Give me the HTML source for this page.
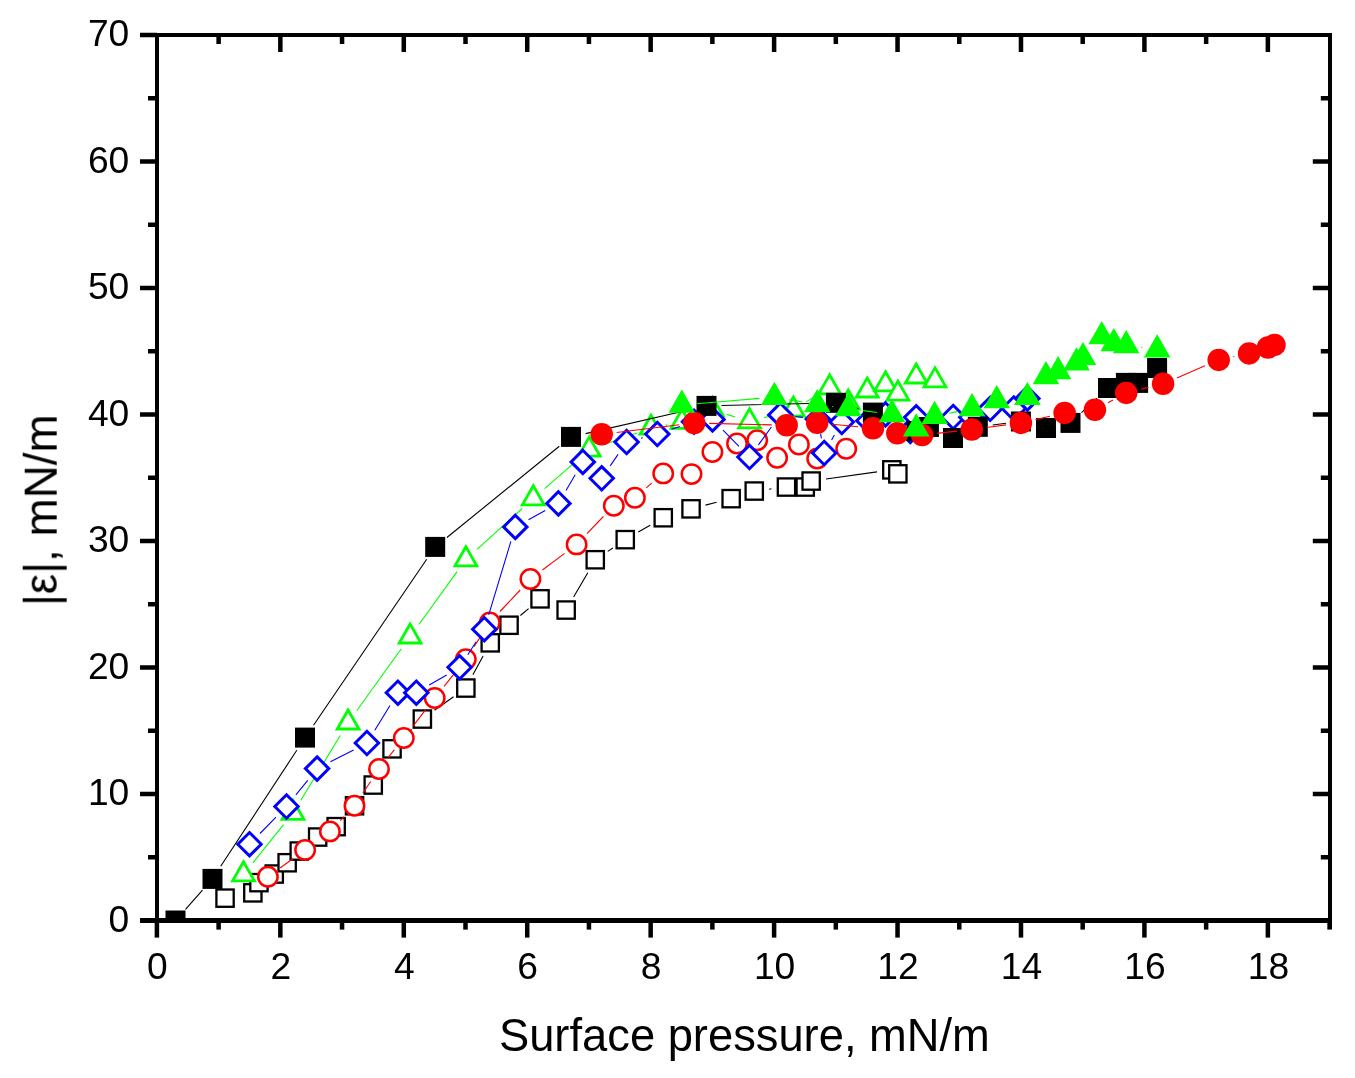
<!DOCTYPE html>
<html><head><meta charset="utf-8"><title>chart</title>
<style>html,body{margin:0;padding:0;background:#fff;}body{width:1355px;height:1078px;overflow:hidden;font-family:"Liberation Sans",sans-serif;}svg{display:block;}</style>
</head><body>
<svg width="1355" height="1078" viewBox="0 0 1355 1078">
<rect width="1355" height="1078" fill="#fff"/>
<defs><clipPath id="cp"><rect x="157" y="35" width="1173" height="886"/></clipPath></defs>
<g clip-path="url(#cp)">
<path d="M380.1 771.7L385.1 762.2M402.7 738.4L411.6 729.5M434.5 710.3L453.6 696.7M472.9 674.8L483.1 656.1M520.4 615.5L528.6 608.6M573.6 597.0L587.8 572.8M607.7 551.4L612.9 548.0M638.3 532.1L650.2 525.2M705.5 505.1L716.6 502.3M769.1 489.2L771.5 488.8M826.0 479.0L877.0 471.9" stroke="#000" stroke-width="1.1" fill="none"/>
<rect x="216.4" y="889.5" width="17.3" height="17.3" fill="#fff" stroke="#000" stroke-width="2.3"/>
<rect x="244.2" y="884.2" width="17.3" height="17.3" fill="#fff" stroke="#000" stroke-width="2.3"/>
<rect x="250.3" y="874.0" width="17.3" height="17.3" fill="#fff" stroke="#000" stroke-width="2.3"/>
<rect x="265.6" y="865.4" width="17.3" height="17.3" fill="#fff" stroke="#000" stroke-width="2.3"/>
<rect x="278.5" y="854.1" width="17.3" height="17.3" fill="#fff" stroke="#000" stroke-width="2.3"/>
<rect x="290.6" y="842.4" width="17.3" height="17.3" fill="#fff" stroke="#000" stroke-width="2.3"/>
<rect x="309.0" y="828.4" width="17.3" height="17.3" fill="#fff" stroke="#000" stroke-width="2.3"/>
<rect x="327.5" y="818.0" width="17.3" height="17.3" fill="#fff" stroke="#000" stroke-width="2.3"/>
<rect x="345.9" y="797.1" width="17.3" height="17.3" fill="#fff" stroke="#000" stroke-width="2.3"/>
<rect x="364.6" y="776.4" width="17.3" height="17.3" fill="#fff" stroke="#000" stroke-width="2.3"/>
<rect x="383.4" y="740.2" width="17.3" height="17.3" fill="#fff" stroke="#000" stroke-width="2.3"/>
<rect x="413.7" y="710.4" width="17.3" height="17.3" fill="#fff" stroke="#000" stroke-width="2.3"/>
<rect x="457.2" y="679.4" width="17.3" height="17.3" fill="#fff" stroke="#000" stroke-width="2.3"/>
<rect x="481.6" y="634.2" width="17.3" height="17.3" fill="#fff" stroke="#000" stroke-width="2.3"/>
<rect x="500.4" y="616.6" width="17.3" height="17.3" fill="#fff" stroke="#000" stroke-width="2.3"/>
<rect x="531.4" y="590.2" width="17.3" height="17.3" fill="#fff" stroke="#000" stroke-width="2.3"/>
<rect x="557.5" y="601.4" width="17.3" height="17.3" fill="#fff" stroke="#000" stroke-width="2.3"/>
<rect x="586.6" y="551.1" width="17.3" height="17.3" fill="#fff" stroke="#000" stroke-width="2.3"/>
<rect x="616.6" y="531.0" width="17.3" height="17.3" fill="#fff" stroke="#000" stroke-width="2.3"/>
<rect x="654.6" y="509.1" width="17.3" height="17.3" fill="#fff" stroke="#000" stroke-width="2.3"/>
<rect x="682.4" y="500.2" width="17.3" height="17.3" fill="#fff" stroke="#000" stroke-width="2.3"/>
<rect x="722.5" y="490.0" width="17.3" height="17.3" fill="#fff" stroke="#000" stroke-width="2.3"/>
<rect x="745.6" y="482.4" width="17.3" height="17.3" fill="#fff" stroke="#000" stroke-width="2.3"/>
<rect x="777.8" y="478.4" width="17.3" height="17.3" fill="#fff" stroke="#000" stroke-width="2.3"/>
<rect x="796.6" y="478.4" width="17.3" height="17.3" fill="#fff" stroke="#000" stroke-width="2.3"/>
<rect x="802.5" y="472.4" width="17.3" height="17.3" fill="#fff" stroke="#000" stroke-width="2.3"/>
<rect x="883.2" y="461.2" width="17.3" height="17.3" fill="#fff" stroke="#000" stroke-width="2.3"/>
<rect x="889.2" y="465.2" width="17.3" height="17.3" fill="#fff" stroke="#000" stroke-width="2.3"/>
<path d="M280.1 868.0L292.9 858.7M340.3 820.6L344.1 816.6M362.8 793.3L370.7 781.5M388.4 757.3L394.4 749.7M413.0 726.1L425.5 709.9M444.1 686.3L456.4 670.9M474.0 646.6L481.6 635.1M500.0 611.5L520.2 590.0M542.4 570.0L564.6 553.4M587.0 533.6L603.4 516.5M646.3 487.9L651.8 483.2" stroke="#f00" stroke-width="1.1" fill="none"/>
<circle cx="267.9" cy="876.8" r="9.7" fill="#fff" stroke="#f00" stroke-width="2.5"/>
<circle cx="305.1" cy="849.9" r="9.7" fill="#fff" stroke="#f00" stroke-width="2.5"/>
<circle cx="329.9" cy="831.4" r="9.7" fill="#fff" stroke="#f00" stroke-width="2.5"/>
<circle cx="354.5" cy="805.8" r="9.7" fill="#fff" stroke="#f00" stroke-width="2.5"/>
<circle cx="379.0" cy="769.0" r="9.7" fill="#fff" stroke="#f00" stroke-width="2.5"/>
<circle cx="403.8" cy="738.0" r="9.7" fill="#fff" stroke="#f00" stroke-width="2.5"/>
<circle cx="434.7" cy="698.0" r="9.7" fill="#fff" stroke="#f00" stroke-width="2.5"/>
<circle cx="465.8" cy="659.2" r="9.7" fill="#fff" stroke="#f00" stroke-width="2.5"/>
<circle cx="489.8" cy="622.5" r="9.7" fill="#fff" stroke="#f00" stroke-width="2.5"/>
<circle cx="530.4" cy="579.0" r="9.7" fill="#fff" stroke="#f00" stroke-width="2.5"/>
<circle cx="576.6" cy="544.4" r="9.7" fill="#fff" stroke="#f00" stroke-width="2.5"/>
<circle cx="613.8" cy="505.7" r="9.7" fill="#fff" stroke="#f00" stroke-width="2.5"/>
<circle cx="634.9" cy="497.7" r="9.7" fill="#fff" stroke="#f00" stroke-width="2.5"/>
<circle cx="663.2" cy="473.4" r="9.7" fill="#fff" stroke="#f00" stroke-width="2.5"/>
<circle cx="691.5" cy="474.1" r="9.7" fill="#fff" stroke="#f00" stroke-width="2.5"/>
<circle cx="712.4" cy="452.0" r="9.7" fill="#fff" stroke="#f00" stroke-width="2.5"/>
<circle cx="737.0" cy="443.5" r="9.7" fill="#fff" stroke="#f00" stroke-width="2.5"/>
<circle cx="757.2" cy="440.3" r="9.7" fill="#fff" stroke="#f00" stroke-width="2.5"/>
<circle cx="777.1" cy="457.7" r="9.7" fill="#fff" stroke="#f00" stroke-width="2.5"/>
<circle cx="798.9" cy="444.5" r="9.7" fill="#fff" stroke="#f00" stroke-width="2.5"/>
<circle cx="817.2" cy="458.5" r="9.7" fill="#fff" stroke="#f00" stroke-width="2.5"/>
<circle cx="846.2" cy="448.8" r="9.7" fill="#fff" stroke="#f00" stroke-width="2.5"/>
<path d="M252.9 862.8L283.6 824.7M300.8 800.2L340.3 735.5M356.9 710.5L401.3 648.8M418.9 624.5L457.1 571.6M477.0 549.4L522.2 508.5M544.6 488.6L577.9 459.6M603.3 444.8L636.9 432.9M665.7 425.1L667.3 424.8M695.9 416.5L698.6 415.4M726.8 414.4L735.2 417.0M764.0 417.7L778.8 413.7M806.1 401.9L816.8 395.4" stroke="#0f0" stroke-width="1.1" fill="none"/>
<polygon points="243.5,861.8 232.6,880.8 254.4,880.8" fill="#fff" stroke="#0f0" stroke-width="2.8" stroke-linejoin="miter"/>
<polygon points="293.0,800.3 282.1,819.3 303.9,819.3" fill="#fff" stroke="#0f0" stroke-width="2.8" stroke-linejoin="miter"/>
<polygon points="348.1,710.0 337.2,729.0 359.0,729.0" fill="#fff" stroke="#0f0" stroke-width="2.8" stroke-linejoin="miter"/>
<polygon points="410.1,624.0 399.2,643.0 421.0,643.0" fill="#fff" stroke="#0f0" stroke-width="2.8" stroke-linejoin="miter"/>
<polygon points="465.9,546.8 455.0,565.8 476.8,565.8" fill="#fff" stroke="#0f0" stroke-width="2.8" stroke-linejoin="miter"/>
<polygon points="533.3,485.8 522.4,504.8 544.2,504.8" fill="#fff" stroke="#0f0" stroke-width="2.8" stroke-linejoin="miter"/>
<polygon points="589.2,437.1 578.3,456.1 600.1,456.1" fill="#fff" stroke="#0f0" stroke-width="2.8" stroke-linejoin="miter"/>
<polygon points="651.0,415.2 640.1,434.2 661.9,434.2" fill="#fff" stroke="#0f0" stroke-width="2.8" stroke-linejoin="miter"/>
<polygon points="682.0,409.4 671.1,428.4 692.9,428.4" fill="#fff" stroke="#0f0" stroke-width="2.8" stroke-linejoin="miter"/>
<polygon points="712.5,397.2 701.6,416.2 723.4,416.2" fill="#fff" stroke="#0f0" stroke-width="2.8" stroke-linejoin="miter"/>
<polygon points="749.5,408.9 738.6,427.9 760.4,427.9" fill="#fff" stroke="#0f0" stroke-width="2.8" stroke-linejoin="miter"/>
<polygon points="793.3,397.1 782.4,416.1 804.2,416.1" fill="#fff" stroke="#0f0" stroke-width="2.8" stroke-linejoin="miter"/>
<polygon points="829.6,374.9 818.7,393.9 840.5,393.9" fill="#fff" stroke="#0f0" stroke-width="2.8" stroke-linejoin="miter"/>
<polygon points="848.3,390.0 837.4,409.0 859.2,409.0" fill="#fff" stroke="#0f0" stroke-width="2.8" stroke-linejoin="miter"/>
<polygon points="867.2,378.0 856.3,397.0 878.1,397.0" fill="#fff" stroke="#0f0" stroke-width="2.8" stroke-linejoin="miter"/>
<polygon points="885.5,371.9 874.6,390.9 896.4,390.9" fill="#fff" stroke="#0f0" stroke-width="2.8" stroke-linejoin="miter"/>
<polygon points="897.9,381.1 887.0,400.1 908.8,400.1" fill="#fff" stroke="#0f0" stroke-width="2.8" stroke-linejoin="miter"/>
<polygon points="916.2,364.0 905.3,383.0 927.1,383.0" fill="#fff" stroke="#0f0" stroke-width="2.8" stroke-linejoin="miter"/>
<polygon points="935.0,367.9 924.1,386.9 945.9,386.9" fill="#fff" stroke="#0f0" stroke-width="2.8" stroke-linejoin="miter"/>
<path d="M260.0 833.5L276.0 817.2M295.9 794.8L307.7 780.3M330.4 761.7L353.6 749.9M374.8 730.2L390.0 705.5M429.2 685.1L446.7 674.9M467.8 654.7L476.1 641.8M488.7 614.8L510.9 541.3M528.5 519.7L545.2 510.6M566.0 490.5L575.2 474.8M610.2 465.9L618.1 454.4M641.1 438.2L642.8 437.8M671.5 429.2L679.8 426.5M723.0 430.1L739.0 446.3M758.4 444.9L771.4 427.0M795.2 416.5L802.9 417.4M820.6 433.7L821.4 438.3M831.6 440.0L834.4 435.0M931.2 417.2L938.2 417.1" stroke="#00f" stroke-width="1.1" fill="none"/>
<polygon points="249.5,832.5 261.2,844.2 249.5,855.9 237.8,844.2" fill="#fff" stroke="#00f" stroke-width="3.0" stroke-linejoin="miter"/>
<polygon points="286.5,794.8 298.2,806.5 286.5,818.2 274.8,806.5" fill="#fff" stroke="#00f" stroke-width="3.0" stroke-linejoin="miter"/>
<polygon points="317.1,756.9 328.8,768.6 317.1,780.3 305.4,768.6" fill="#fff" stroke="#00f" stroke-width="3.0" stroke-linejoin="miter"/>
<polygon points="366.9,731.3 378.6,743.0 366.9,754.7 355.2,743.0" fill="#fff" stroke="#00f" stroke-width="3.0" stroke-linejoin="miter"/>
<polygon points="397.9,681.0 409.6,692.7 397.9,704.4 386.2,692.7" fill="#fff" stroke="#00f" stroke-width="3.0" stroke-linejoin="miter"/>
<polygon points="416.3,681.0 428.0,692.7 416.3,704.4 404.6,692.7" fill="#fff" stroke="#00f" stroke-width="3.0" stroke-linejoin="miter"/>
<polygon points="459.6,655.6 471.3,667.3 459.6,679.0 447.9,667.3" fill="#fff" stroke="#00f" stroke-width="3.0" stroke-linejoin="miter"/>
<polygon points="484.3,617.5 496.0,629.2 484.3,640.9 472.6,629.2" fill="#fff" stroke="#00f" stroke-width="3.0" stroke-linejoin="miter"/>
<polygon points="515.3,515.2 527.0,526.9 515.3,538.6 503.6,526.9" fill="#fff" stroke="#00f" stroke-width="3.0" stroke-linejoin="miter"/>
<polygon points="558.4,491.7 570.1,503.4 558.4,515.1 546.7,503.4" fill="#fff" stroke="#00f" stroke-width="3.0" stroke-linejoin="miter"/>
<polygon points="582.8,450.2 594.5,461.9 582.8,473.6 571.1,461.9" fill="#fff" stroke="#00f" stroke-width="3.0" stroke-linejoin="miter"/>
<polygon points="601.7,466.6 613.4,478.3 601.7,490.0 590.0,478.3" fill="#fff" stroke="#00f" stroke-width="3.0" stroke-linejoin="miter"/>
<polygon points="626.6,430.3 638.3,442.0 626.6,453.7 614.9,442.0" fill="#fff" stroke="#00f" stroke-width="3.0" stroke-linejoin="miter"/>
<polygon points="657.3,422.3 669.0,434.0 657.3,445.7 645.6,434.0" fill="#fff" stroke="#00f" stroke-width="3.0" stroke-linejoin="miter"/>
<polygon points="694.0,410.0 705.7,421.7 694.0,433.4 682.3,421.7" fill="#fff" stroke="#00f" stroke-width="3.0" stroke-linejoin="miter"/>
<polygon points="712.5,407.7 724.2,419.4 712.5,431.1 700.8,419.4" fill="#fff" stroke="#00f" stroke-width="3.0" stroke-linejoin="miter"/>
<polygon points="749.5,445.3 761.2,457.0 749.5,468.7 737.8,457.0" fill="#fff" stroke="#00f" stroke-width="3.0" stroke-linejoin="miter"/>
<polygon points="780.3,403.2 792.0,414.9 780.3,426.6 768.6,414.9" fill="#fff" stroke="#00f" stroke-width="3.0" stroke-linejoin="miter"/>
<polygon points="817.8,407.3 829.5,419.0 817.8,430.7 806.1,419.0" fill="#fff" stroke="#00f" stroke-width="3.0" stroke-linejoin="miter"/>
<polygon points="824.2,441.3 835.9,453.0 824.2,464.7 812.5,453.0" fill="#fff" stroke="#00f" stroke-width="3.0" stroke-linejoin="miter"/>
<polygon points="841.8,410.3 853.5,422.0 841.8,433.7 830.1,422.0" fill="#fff" stroke="#00f" stroke-width="3.0" stroke-linejoin="miter"/>
<polygon points="868.4,409.1 880.1,420.8 868.4,432.5 856.7,420.8" fill="#fff" stroke="#00f" stroke-width="3.0" stroke-linejoin="miter"/>
<polygon points="885.5,402.7 897.2,414.4 885.5,426.1 873.8,414.4" fill="#fff" stroke="#00f" stroke-width="3.0" stroke-linejoin="miter"/>
<polygon points="910.3,419.2 922.0,430.9 910.3,442.6 898.6,430.9" fill="#fff" stroke="#00f" stroke-width="3.0" stroke-linejoin="miter"/>
<polygon points="916.2,405.6 927.9,417.3 916.2,429.0 904.5,417.3" fill="#fff" stroke="#00f" stroke-width="3.0" stroke-linejoin="miter"/>
<polygon points="953.2,405.3 964.9,417.0 953.2,428.7 941.5,417.0" fill="#fff" stroke="#00f" stroke-width="3.0" stroke-linejoin="miter"/>
<polygon points="971.3,405.6 983.0,417.3 971.3,429.0 959.6,417.3" fill="#fff" stroke="#00f" stroke-width="3.0" stroke-linejoin="miter"/>
<polygon points="990.2,397.1 1001.9,408.8 990.2,420.5 978.5,408.8" fill="#fff" stroke="#00f" stroke-width="3.0" stroke-linejoin="miter"/>
<polygon points="1013.8,396.8 1025.5,408.5 1013.8,420.2 1002.1,408.5" fill="#fff" stroke="#00f" stroke-width="3.0" stroke-linejoin="miter"/>
<polygon points="1027.4,386.7 1039.1,398.4 1027.4,410.1 1015.7,398.4" fill="#fff" stroke="#00f" stroke-width="3.0" stroke-linejoin="miter"/>
<path d="M185.5 909.3L202.5 890.1M220.7 866.3L296.8 750.2M313.5 725.2L426.7 559.3M446.9 537.5L559.3 446.3M585.6 433.6L691.9 409.2M721.5 405.5L820.9 403.2M850.4 406.6L858.4 408.8M886.7 418.5L902.7 425.2M992.7 425.0L1006.0 423.3M1081.5 412.7L1097.0 398.2" stroke="#000" stroke-width="1.1" fill="none"/>
<rect x="165.5" y="910.5" width="20" height="20" fill="#000"/>
<rect x="202.5" y="868.9" width="20" height="20" fill="#000"/>
<rect x="295.0" y="727.6" width="20" height="20" fill="#000"/>
<rect x="425.2" y="536.9" width="20" height="20" fill="#000"/>
<rect x="561.0" y="426.9" width="20" height="20" fill="#000"/>
<rect x="696.5" y="395.9" width="20" height="20" fill="#000"/>
<rect x="825.9" y="392.8" width="20" height="20" fill="#000"/>
<rect x="862.9" y="402.6" width="20" height="20" fill="#000"/>
<rect x="906.5" y="421.1" width="20" height="20" fill="#000"/>
<rect x="918.9" y="417.0" width="20" height="20" fill="#000"/>
<rect x="943.0" y="428.0" width="20" height="20" fill="#000"/>
<rect x="967.8" y="416.8" width="20" height="20" fill="#000"/>
<rect x="1010.9" y="411.5" width="20" height="20" fill="#000"/>
<rect x="1036.0" y="418.0" width="20" height="20" fill="#000"/>
<rect x="1060.5" y="412.9" width="20" height="20" fill="#000"/>
<rect x="1098.0" y="378.0" width="20" height="20" fill="#000"/>
<rect x="1115.9" y="372.9" width="20" height="20" fill="#000"/>
<rect x="1128.1" y="372.9" width="20" height="20" fill="#000"/>
<rect x="1147.1" y="358.0" width="20" height="20" fill="#000"/>
<path d="M616.6 432.5L679.3 424.8M709.2 423.4L771.7 424.9M832.1 424.2L858.1 426.8M937.0 433.4L956.9 431.1M986.7 427.5L1006.0 424.9M1035.5 419.6L1050.0 416.2M1108.1 402.7L1113.0 400.0M1140.8 389.3L1148.5 387.4M1176.9 377.9L1204.9 365.8M1233.4 356.8L1234.4 356.5" stroke="#f00" stroke-width="1.1" fill="none"/>
<circle cx="601.7" cy="434.3" r="11.25" fill="#f00"/>
<circle cx="694.2" cy="423.0" r="11.25" fill="#f00"/>
<circle cx="786.7" cy="425.3" r="11.25" fill="#f00"/>
<circle cx="817.2" cy="422.8" r="11.25" fill="#f00"/>
<circle cx="873.0" cy="428.2" r="11.25" fill="#f00"/>
<circle cx="897.3" cy="433.2" r="11.25" fill="#f00"/>
<circle cx="922.1" cy="435.0" r="11.25" fill="#f00"/>
<circle cx="971.8" cy="429.5" r="11.25" fill="#f00"/>
<circle cx="1020.9" cy="422.9" r="11.25" fill="#f00"/>
<circle cx="1064.6" cy="412.9" r="11.25" fill="#f00"/>
<circle cx="1094.9" cy="409.8" r="11.25" fill="#f00"/>
<circle cx="1126.2" cy="392.9" r="11.25" fill="#f00"/>
<circle cx="1163.1" cy="383.8" r="11.25" fill="#f00"/>
<circle cx="1218.7" cy="359.9" r="11.25" fill="#f00"/>
<circle cx="1249.1" cy="353.4" r="11.25" fill="#f00"/>
<circle cx="1268.0" cy="347.5" r="11.25" fill="#f00"/>
<circle cx="1274.5" cy="344.9" r="11.25" fill="#f00"/>
<path d="M696.7 403.7L759.5 398.4M789.2 399.7L802.4 402.0M832.1 406.5L833.4 406.7M863.2 410.6L877.1 412.5M949.3 413.2L957.3 411.6M1141.1 347.5L1142.3 347.7" stroke="#0f0" stroke-width="1.1" fill="none"/>
<polygon points="681.8,389.5 668.5,412.7 695.1,412.7" fill="#0f0"/>
<polygon points="774.4,381.7 761.1,404.9 787.7,404.9" fill="#0f0"/>
<polygon points="817.2,389.1 803.9,412.3 830.5,412.3" fill="#0f0"/>
<polygon points="848.3,393.1 835.0,416.3 861.6,416.3" fill="#0f0"/>
<polygon points="892.0,399.0 878.7,422.2 905.3,422.2" fill="#0f0"/>
<polygon points="916.2,413.2 902.9,436.4 929.5,436.4" fill="#0f0"/>
<polygon points="934.6,400.8 921.3,424.0 947.9,424.0" fill="#0f0"/>
<polygon points="972.0,393.1 958.7,416.3 985.3,416.3" fill="#0f0"/>
<polygon points="996.7,385.1 983.4,408.3 1010.0,408.3" fill="#0f0"/>
<polygon points="1027.4,381.9 1014.1,405.1 1040.7,405.1" fill="#0f0"/>
<polygon points="1046.0,361.0 1032.7,384.2 1059.3,384.2" fill="#0f0"/>
<polygon points="1058.1,356.0 1044.8,379.2 1071.4,379.2" fill="#0f0"/>
<polygon points="1076.5,347.2 1063.2,370.4 1089.8,370.4" fill="#0f0"/>
<polygon points="1083.0,341.9 1069.7,365.1 1096.3,365.1" fill="#0f0"/>
<polygon points="1101.7,321.0 1088.4,344.2 1115.0,344.2" fill="#0f0"/>
<polygon points="1113.8,328.1 1100.5,351.3 1127.1,351.3" fill="#0f0"/>
<polygon points="1126.2,330.1 1112.9,353.3 1139.5,353.3" fill="#0f0"/>
<polygon points="1157.2,334.2 1143.9,357.4 1170.5,357.4" fill="#0f0"/>
</g>
<g fill="#000" shape-rendering="crispEdges">
<rect x="155" y="33" width="4" height="904"/>
<rect x="1328" y="33" width="4" height="896"/>
<rect x="140" y="33" width="1192" height="4"/>
<rect x="140" y="918" width="1192" height="5"/>
</g><g fill="#000">
<rect x="154.65" y="920" width="4.5" height="17.6"/>
<rect x="216.37" y="920" width="4.5" height="9.6"/>
<rect x="216.37" y="35" width="4.5" height="9"/>
<rect x="278.09" y="920" width="4.5" height="17.6"/>
<rect x="278.09" y="35" width="4.5" height="17"/>
<rect x="339.81" y="920" width="4.5" height="9.6"/>
<rect x="339.81" y="35" width="4.5" height="9"/>
<rect x="401.53" y="920" width="4.5" height="17.6"/>
<rect x="401.53" y="35" width="4.5" height="17"/>
<rect x="463.25" y="920" width="4.5" height="9.6"/>
<rect x="463.25" y="35" width="4.5" height="9"/>
<rect x="524.97" y="920" width="4.5" height="17.6"/>
<rect x="524.97" y="35" width="4.5" height="17"/>
<rect x="586.69" y="920" width="4.5" height="9.6"/>
<rect x="586.69" y="35" width="4.5" height="9"/>
<rect x="648.41" y="920" width="4.5" height="17.6"/>
<rect x="648.41" y="35" width="4.5" height="17"/>
<rect x="710.13" y="920" width="4.5" height="9.6"/>
<rect x="710.13" y="35" width="4.5" height="9"/>
<rect x="771.85" y="920" width="4.5" height="17.6"/>
<rect x="771.85" y="35" width="4.5" height="17"/>
<rect x="833.57" y="920" width="4.5" height="9.6"/>
<rect x="833.57" y="35" width="4.5" height="9"/>
<rect x="895.29" y="920" width="4.5" height="17.6"/>
<rect x="895.29" y="35" width="4.5" height="17"/>
<rect x="957.01" y="920" width="4.5" height="9.6"/>
<rect x="957.01" y="35" width="4.5" height="9"/>
<rect x="1018.73" y="920" width="4.5" height="17.6"/>
<rect x="1018.73" y="35" width="4.5" height="17"/>
<rect x="1080.45" y="920" width="4.5" height="9.6"/>
<rect x="1080.45" y="35" width="4.5" height="9"/>
<rect x="1142.17" y="920" width="4.5" height="17.6"/>
<rect x="1142.17" y="35" width="4.5" height="17"/>
<rect x="1203.89" y="920" width="4.5" height="9.6"/>
<rect x="1203.89" y="35" width="4.5" height="9"/>
<rect x="1265.61" y="920" width="4.5" height="17.6"/>
<rect x="1265.61" y="35" width="4.5" height="17"/>
<rect x="1327.33" y="920" width="4.5" height="9.6"/>
<rect x="140" y="918.25" width="17" height="4.5"/>
<rect x="148" y="855.00" width="9" height="4.5"/>
<rect x="1320.8" y="855.00" width="9" height="4.5"/>
<rect x="140" y="791.75" width="17" height="4.5"/>
<rect x="1312.8" y="791.75" width="17" height="4.5"/>
<rect x="148" y="728.50" width="9" height="4.5"/>
<rect x="1320.8" y="728.50" width="9" height="4.5"/>
<rect x="140" y="665.25" width="17" height="4.5"/>
<rect x="1312.8" y="665.25" width="17" height="4.5"/>
<rect x="148" y="602.00" width="9" height="4.5"/>
<rect x="1320.8" y="602.00" width="9" height="4.5"/>
<rect x="140" y="538.75" width="17" height="4.5"/>
<rect x="1312.8" y="538.75" width="17" height="4.5"/>
<rect x="148" y="475.50" width="9" height="4.5"/>
<rect x="1320.8" y="475.50" width="9" height="4.5"/>
<rect x="140" y="412.25" width="17" height="4.5"/>
<rect x="1312.8" y="412.25" width="17" height="4.5"/>
<rect x="148" y="349.00" width="9" height="4.5"/>
<rect x="1320.8" y="349.00" width="9" height="4.5"/>
<rect x="140" y="285.75" width="17" height="4.5"/>
<rect x="1312.8" y="285.75" width="17" height="4.5"/>
<rect x="148" y="222.50" width="9" height="4.5"/>
<rect x="1320.8" y="222.50" width="9" height="4.5"/>
<rect x="140" y="159.25" width="17" height="4.5"/>
<rect x="1312.8" y="159.25" width="17" height="4.5"/>
<rect x="148" y="96.00" width="9" height="4.5"/>
<rect x="1320.8" y="96.00" width="9" height="4.5"/>
<rect x="140" y="32.75" width="17" height="4.5"/>
</g>
<g font-family="'Liberation Sans', sans-serif" fill="#000" opacity="0.999">
<text x="157.4" y="979.2" font-size="37.2" text-anchor="middle">0</text>
<text x="280.8" y="979.2" font-size="37.2" text-anchor="middle">2</text>
<text x="404.3" y="979.2" font-size="37.2" text-anchor="middle">4</text>
<text x="527.7" y="979.2" font-size="37.2" text-anchor="middle">6</text>
<text x="651.2" y="979.2" font-size="37.2" text-anchor="middle">8</text>
<text x="774.6" y="979.2" font-size="37.2" text-anchor="middle">10</text>
<text x="898.0" y="979.2" font-size="37.2" text-anchor="middle">12</text>
<text x="1021.5" y="979.2" font-size="37.2" text-anchor="middle">14</text>
<text x="1144.9" y="979.2" font-size="37.2" text-anchor="middle">16</text>
<text x="1268.4" y="979.2" font-size="37.2" text-anchor="middle">18</text>
<text x="129.3" y="931.7" font-size="37.2" text-anchor="end">0</text>
<text x="129.3" y="805.2" font-size="37.2" text-anchor="end">10</text>
<text x="129.3" y="678.7" font-size="37.2" text-anchor="end">20</text>
<text x="129.3" y="552.2" font-size="37.2" text-anchor="end">30</text>
<text x="129.3" y="425.7" font-size="37.2" text-anchor="end">40</text>
<text x="129.3" y="299.2" font-size="37.2" text-anchor="end">50</text>
<text x="129.3" y="172.7" font-size="37.2" text-anchor="end">60</text>
<text x="129.3" y="46.2" font-size="37.2" text-anchor="end">70</text>
<text x="744.4" y="1051" font-size="45.3" text-anchor="middle">Surface pressure, mN/m</text>
<text transform="translate(56.7,510.3) rotate(-90)" font-size="45.8" text-anchor="middle">|&#949;|, mN/m</text>
</g>
</svg>
</body></html>
